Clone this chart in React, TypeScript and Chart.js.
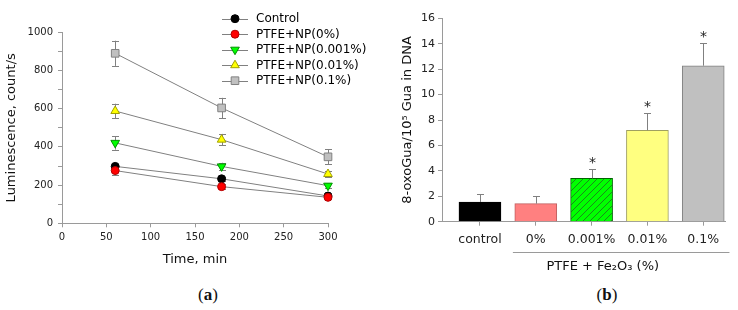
import React, { useEffect, useRef } from 'react';
import { Chart, registerables } from 'chart.js';

Chart.register(...registerables);

// ---------- Panel (a) data ----------
const times = [60, 180, 300];
const seriesNames = ['Control', 'PTFE+NP(0%)', 'PTFE+NP(0.001%)', 'PTFE+NP(0.01%)', 'PTFE+NP(0.1%)'];
const controlLum = [298, 233, 143];
const np0Lum = [276, 192, 136];
const np0001Lum = [421, 298, 197];
const np001Lum = [588, 438, 258];
const np01Lum = [890, 604, 348];
const controlErr = [15, 10, 8];
const np0Err = [25, 12, 10];
const np0001Err = [35, 19, 12];
const np001Err = [38, 30, 18];
const np01Err = [66, 53, 39];
const timeTicks = [0, 50, 100, 150, 200, 250, 300];
const lumTicks = [0, 200, 400, 600, 800, 1000];

// ---------- Panel (b) data ----------
const barCategories = ['control', '0%', '0.001%', '0.01%', '0.1%'];
const dnaValues = [1.55, 1.42, 3.41, 7.19, 12.27];
const dnaErr = [0.6, 0.63, 0.74, 1.34, 1.77];
const significant = [false, false, true, true, true];
const groupLabel = 'PTFE + Fe\u2082O\u2083 (%)';

const FONT = '"DejaVu Sans", Verdana, sans-serif';
Chart.defaults.font.family = FONT;

const lumSeries = [controlLum, np0Lum, np0001Lum, np001Lum, np01Lum];
const lumErrors = [controlErr, np0Err, np0001Err, np001Err, np01Err];

const seriesStyles = [
  { fill: '#000000', border: '#000000', style: 'circle', radius: 4, rotation: 0 },
  { fill: '#ff0000', border: '#b00000', style: 'circle', radius: 4, rotation: 0 },
  { fill: '#00ff00', border: '#009000', style: 'triangle', radius: 5, rotation: 180 },
  { fill: '#ffff00', border: '#a0a000', style: 'triangle', radius: 5, rotation: 0 },
  { fill: '#c0c0c0', border: '#808080', style: 'rect', radius: 5.4, rotation: 0 },
];

function drawMarker(ctx: CanvasRenderingContext2D, st: any, x: number, y: number) {
  ctx.save();
  ctx.fillStyle = st.fill;
  ctx.strokeStyle = st.border;
  ctx.lineWidth = 1;
  ctx.beginPath();
  if (st.style === 'circle') {
    ctx.arc(x, y, st.radius, 0, Math.PI * 2);
  } else if (st.style === 'rect') {
    const s = Math.SQRT1_2 * st.radius;
    ctx.rect(x - s, y - s, 2 * s, 2 * s);
  } else {
    let rad = (st.rotation * Math.PI) / 180;
    for (let k = 0; k < 3; k++) {
      const px = x + Math.sin(rad) * st.radius;
      const py = y - Math.cos(rad) * st.radius;
      if (k === 0) ctx.moveTo(px, py); else ctx.lineTo(px, py);
      rad += (2 * Math.PI) / 3;
    }
    ctx.closePath();
  }
  ctx.fill();
  ctx.stroke();
  ctx.restore();
}

const AXIS = '#9a9a9a';
const TICKTXT = '#222222';

export default function App() {
  const refA = useRef<HTMLCanvasElement>(null);
  const refB = useRef<HTMLCanvasElement>(null);

  useEffect(() => {
    const charts: Chart[] = [];

    // ---------------- Panel (a) ----------------
    const errorPluginA = {
      id: 'errA',
      beforeDatasetsDraw(chart: any) {
        const ctx = chart.ctx;
        const xs = chart.scales.x;
        const ys = chart.scales.y;
        ctx.save();
        ctx.strokeStyle = '#808080';
        ctx.lineWidth = 1;
        lumSeries.forEach((vals, di) => {
          vals.forEach((v, j) => {
            const x = Math.round(xs.getPixelForValue(times[j])) + 0.5;
            const yt = ys.getPixelForValue(v + lumErrors[di][j]);
            const yb = ys.getPixelForValue(v - lumErrors[di][j]);
            ctx.beginPath();
            ctx.moveTo(x, yt);
            ctx.lineTo(x, yb);
            ctx.moveTo(x - 3.5, Math.round(yt) + 0.5);
            ctx.lineTo(x + 3.5, Math.round(yt) + 0.5);
            ctx.moveTo(x - 3.5, Math.round(yb) + 0.5);
            ctx.lineTo(x + 3.5, Math.round(yb) + 0.5);
            ctx.stroke();
          });
        });
        ctx.restore();
      },
    };

    const legendPluginA = {
      id: 'legA',
      afterDraw(chart: any) {
        const ctx = chart.ctx;
        ctx.save();
        seriesNames.forEach((name, i) => {
          const y = 18.7 + i * 15.5;
          ctx.strokeStyle = '#808080';
          ctx.lineWidth = 1;
          ctx.beginPath();
          ctx.moveTo(222, Math.round(y) + 0.5);
          ctx.lineTo(248, Math.round(y) + 0.5);
          ctx.stroke();
          drawMarker(ctx, seriesStyles[i], 235, y);
          ctx.fillStyle = '#000';
          ctx.font = '12px ' + FONT;
          ctx.textAlign = 'left';
          ctx.textBaseline = 'middle';
          ctx.fillText(name, 256, y + 0.5);
        });
        ctx.restore();
      },
    };

    if (refA.current) {
      charts.push(
        new Chart(refA.current, {
          type: 'line',
          data: {
            datasets: lumSeries.map((vals, i) => ({
              label: seriesNames[i],
              data: vals.map((v, j) => ({ x: times[j], y: v })),
              borderColor: '#808080',
              borderWidth: 1,
              backgroundColor: seriesStyles[i].fill,
              pointBackgroundColor: seriesStyles[i].fill,
              pointBorderColor: seriesStyles[i].border,
              pointBorderWidth: 1,
              pointStyle: seriesStyles[i].style as any,
              pointRadius: seriesStyles[i].radius,
              pointRotation: seriesStyles[i].rotation,
              pointHoverRadius: seriesStyles[i].radius,
              fill: false,
              tension: 0,
              clip: false,
              order: lumSeries.length - 1 - i,
            })),
          },
          options: {
            responsive: false,
            animation: false,
            devicePixelRatio: 1,
            layout: { padding: { top: 32.3, right: 42, left: 0, bottom: 0 } },
            plugins: { legend: { display: false }, tooltip: { enabled: false } },
            scales: {
              x: {
                type: 'linear',
                min: 0,
                max: 300,
                offset: false,
                afterBuildTicks: (s: any) => {
                  s.ticks = timeTicks.map((v) => ({ value: v }));
                },
                afterFit: (s: any) => {
                  s.height = 48.7;
                },
                ticks: { font: { size: 10 }, color: TICKTXT, padding: 4, maxRotation: 0, autoSkip: false },
                grid: { drawOnChartArea: false, tickLength: 4, color: AXIS },
                border: { color: AXIS },
                title: { display: true, text: 'Time, min', font: { size: 13 }, color: '#111', padding: { top: 0, bottom: 5 } },
              },
              y: {
                type: 'linear',
                min: 0,
                max: 1000,
                ticks: {
                  stepSize: 100,
                  font: { size: 10 },
                  color: TICKTXT,
                  padding: 5,
                  callback: (v: any) => (lumTicks.includes(Number(v)) ? String(v) : ''),
                },
                afterFit: (s: any) => {
                  s.width = 62;
                },
                grid: { drawOnChartArea: false, tickLength: 4, color: AXIS },
                border: { color: AXIS },
                title: { display: true, text: 'Luminescence, count/s', font: { size: 13 }, color: '#111', padding: { top: 4, bottom: 0 } },
              },
            },
          } as any,
          plugins: [errorPluginA, legendPluginA],
        })
      );
    }

    // ---------------- Panel (b) ----------------
    const pc = document.createElement('canvas');
    pc.width = 7;
    pc.height = 7;
    const pctx = pc.getContext('2d')!;
    pctx.fillStyle = '#00ff00';
    pctx.fillRect(0, 0, 7, 7);
    pctx.strokeStyle = '#1a8a1a';
    pctx.lineWidth = 1;
    pctx.beginPath();
    pctx.moveTo(-1, 8);
    pctx.lineTo(8, -1);
    pctx.moveTo(-2, 2);
    pctx.lineTo(2, -2);
    pctx.moveTo(5, 9);
    pctx.lineTo(9, 5);
    pctx.stroke();
    const hatch = pctx.createPattern(pc, 'repeat');

    const overlayPluginB = {
      id: 'ovB',
      afterDatasetsDraw(chart: any) {
        const ctx = chart.ctx;
        const xs = chart.scales.x;
        const ys = chart.scales.y;
        ctx.save();
        ctx.strokeStyle = '#808080';
        ctx.lineWidth = 1;
        dnaValues.forEach((v, i) => {
          const x = Math.round(xs.getPixelForValue(i)) + 0.5;
          const y0 = ys.getPixelForValue(v);
          const yt = Math.round(ys.getPixelForValue(v + dnaErr[i])) + 0.5;
          ctx.beginPath();
          ctx.moveTo(x, y0);
          ctx.lineTo(x, yt);
          ctx.moveTo(x - 3.5, yt);
          ctx.lineTo(x + 3.5, yt);
          ctx.stroke();
          if (significant[i]) {
            ctx.fillStyle = '#222';
            ctx.font = '14px ' + FONT;
            ctx.textAlign = 'center';
            ctx.textBaseline = 'alphabetic';
            ctx.fillText('*', x, yt - 11 + 8.3);
          }
        });
        ctx.restore();
      },
      afterDraw(chart: any) {
        const ctx = chart.ctx;
        const xs = chart.scales.x;
        ctx.save();
        ctx.strokeStyle = '#9a9a9a';
        ctx.lineWidth = 1;
        ctx.beginPath();
        ctx.moveTo(xs.getPixelForValue(0.59), 252.5);
        ctx.lineTo(xs.getPixelForValue(4.47), 252.5);
        ctx.stroke();
        ctx.fillStyle = '#111';
        ctx.font = '13px ' + FONT;
        ctx.textAlign = 'center';
        ctx.textBaseline = 'middle';
        ctx.fillText(groupLabel, xs.getPixelForValue(2.2), 267);
        ctx.restore();
      },
    };

    if (refB.current) {
      charts.push(
        new Chart(refB.current, {
          type: 'bar',
          data: {
            datasets: [
              {
                data: dnaValues.map((v, i) => ({ x: i, y: v })),
                backgroundColor: ['#000000', '#ff8080', hatch as any, '#ffff80', '#c0c0c0'],
                borderColor: ['#000000', '#c06060', '#006400', '#a0a060', '#808080'],
                borderWidth: 1,
                barThickness: 42,
              },
            ],
          },
          options: {
            responsive: false,
            animation: false,
            devicePixelRatio: 1,
            layout: { padding: { top: 18.3, right: 13, left: 0, bottom: 0 } },
            plugins: { legend: { display: false }, tooltip: { enabled: false } },
            scales: {
              x: {
                type: 'linear',
                min: -0.68,
                max: 4.39,
                offset: false,
                afterBuildTicks: (s: any) => {
                  s.ticks = barCategories.map((_, i) => ({ value: i }));
                },
                afterFit: (s: any) => {
                  s.height = 50.3;
                },
                ticks: {
                  font: { size: 12.5 },
                  color: TICKTXT,
                  padding: 7,
                  maxRotation: 0,
                  autoSkip: false,
                  callback: (_v: any, idx: number) => barCategories[idx],
                },
                grid: { drawOnChartArea: false, tickLength: 4, color: AXIS, offset: false },
                border: { color: AXIS },
              },
              y: {
                type: 'linear',
                min: 0,
                max: 16,
                ticks: { stepSize: 2, font: { size: 11 }, color: TICKTXT, padding: 3 },
                afterFit: (s: any) => {
                  s.width = 72;
                },
                grid: { drawOnChartArea: false, tickLength: 4, color: AXIS },
                border: { color: AXIS },
                title: {
                  display: true,
                  text: '8-oxoGua/10\u2075 Gua in DNA',
                  font: { size: 13 },
                  color: '#111',
                  padding: { top: 30, bottom: 0 },
                },
              },
            },
          } as any,
          plugins: [overlayPluginB],
        })
      );
    }

    return () => {
      charts.forEach((c) => c.destroy());
    };
  }, []);

  const capStyle: React.CSSProperties = {
    position: 'absolute',
    top: 284,
    width: 100,
    textAlign: 'center',
    fontFamily: '"Liberation Serif", "Times New Roman", serif',
    fontSize: 17,
    lineHeight: '22px',
    color: '#111',
  };

  return (
    <div style={{ position: 'absolute', left: 0, top: 0, width: 738, height: 310, background: '#fff', overflow: 'hidden' }}>
      <canvas ref={refA} width={370} height={272} style={{ position: 'absolute', left: 0, top: 0, width: 370, height: 272 }} />
      <canvas ref={refB} width={368} height={272} style={{ position: 'absolute', left: 370, top: 0, width: 368, height: 272 }} />
      <div style={{ ...capStyle, left: 158 }}>
        (<b>a</b>)
      </div>
      <div style={{ ...capStyle, left: 557 }}>
        (<b>b</b>)
      </div>
    </div>
  );
}
